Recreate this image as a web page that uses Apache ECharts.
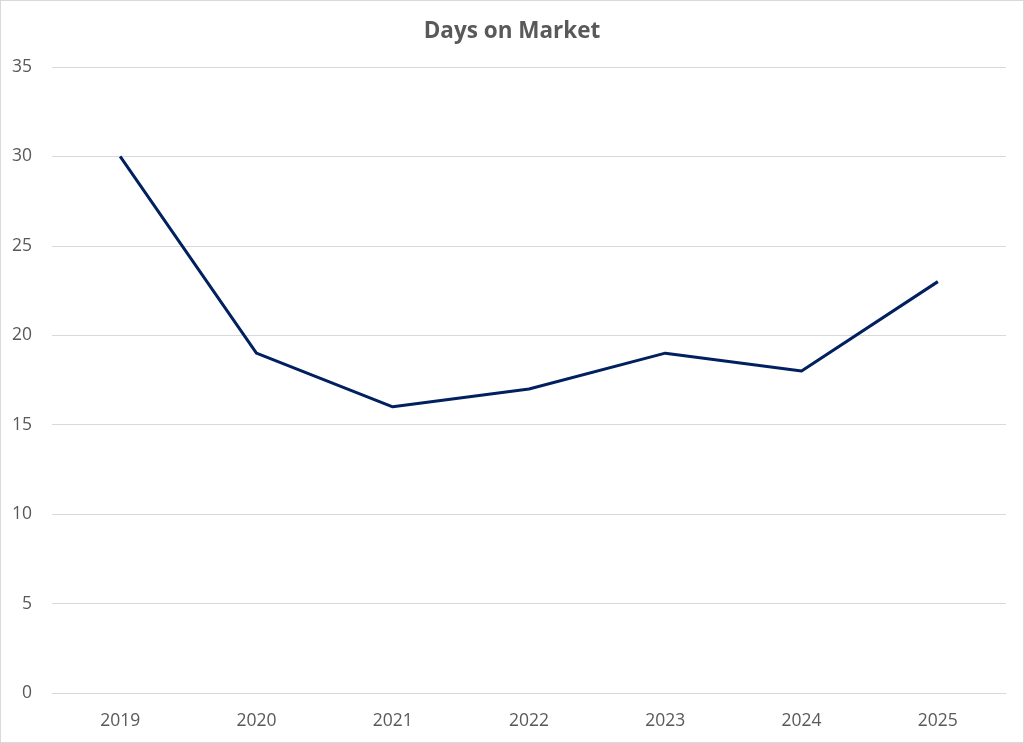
<!DOCTYPE html>
<html>
<head>
<meta charset="utf-8">
<script src="https://cdn.jsdelivr.net/npm/echarts@6/dist/echarts.min.js"></script>
<style>
html,body{margin:0;padding:0;background:#fff;}
#c{width:1024px;height:743px;box-sizing:border-box;border:1px solid #d9d9d9;}
</style>
</head>
<body>
<div id="c"></div>
<script>
const categories = ['2019','2020','2021','2022','2023','2024','2025'];
const daysOnMarket = [30, 19, 16, 17, 19, 18, 23];
const titleText = 'Days on Market';

const chart = echarts.init(document.getElementById('c'));
chart.setOption({
  animation: false,
  backgroundColor: '#ffffff',
  title: {
    text: titleText,
    left: 'center',
    top: 14,
    textStyle: {fontFamily: 'Open Sans', fontSize: 22.5, fontWeight: 'bold', color: '#595959'}
  },
  grid: {left: 51, right: 17, top: 66, bottom: 49},
  xAxis: {
    type: 'category',
    data: categories,
    boundaryGap: true,
    axisLine: {show: true, lineStyle: {color: '#d9d9d9', width: 1}},
    axisTick: {show: false},
    axisLabel: {fontFamily: 'Open Sans', fontSize: 17.5, color: '#595959', margin: 19}
  },
  yAxis: {
    type: 'value',
    min: 0, max: 35, interval: 5,
    axisLine: {show: false},
    axisTick: {show: false},
    splitLine: {lineStyle: {color: '#d9d9d9', width: 1}},
    axisLabel: {fontFamily: 'Open Sans', fontSize: 17.5, color: '#595959', margin: 20}
  },
  series: [{
    type: 'line',
    data: daysOnMarket,
    symbol: 'none',
    lineStyle: {color: '#002060', width: 3},
    itemStyle: {color: '#002060'}
  }]
});
</script>
</body>
</html>
